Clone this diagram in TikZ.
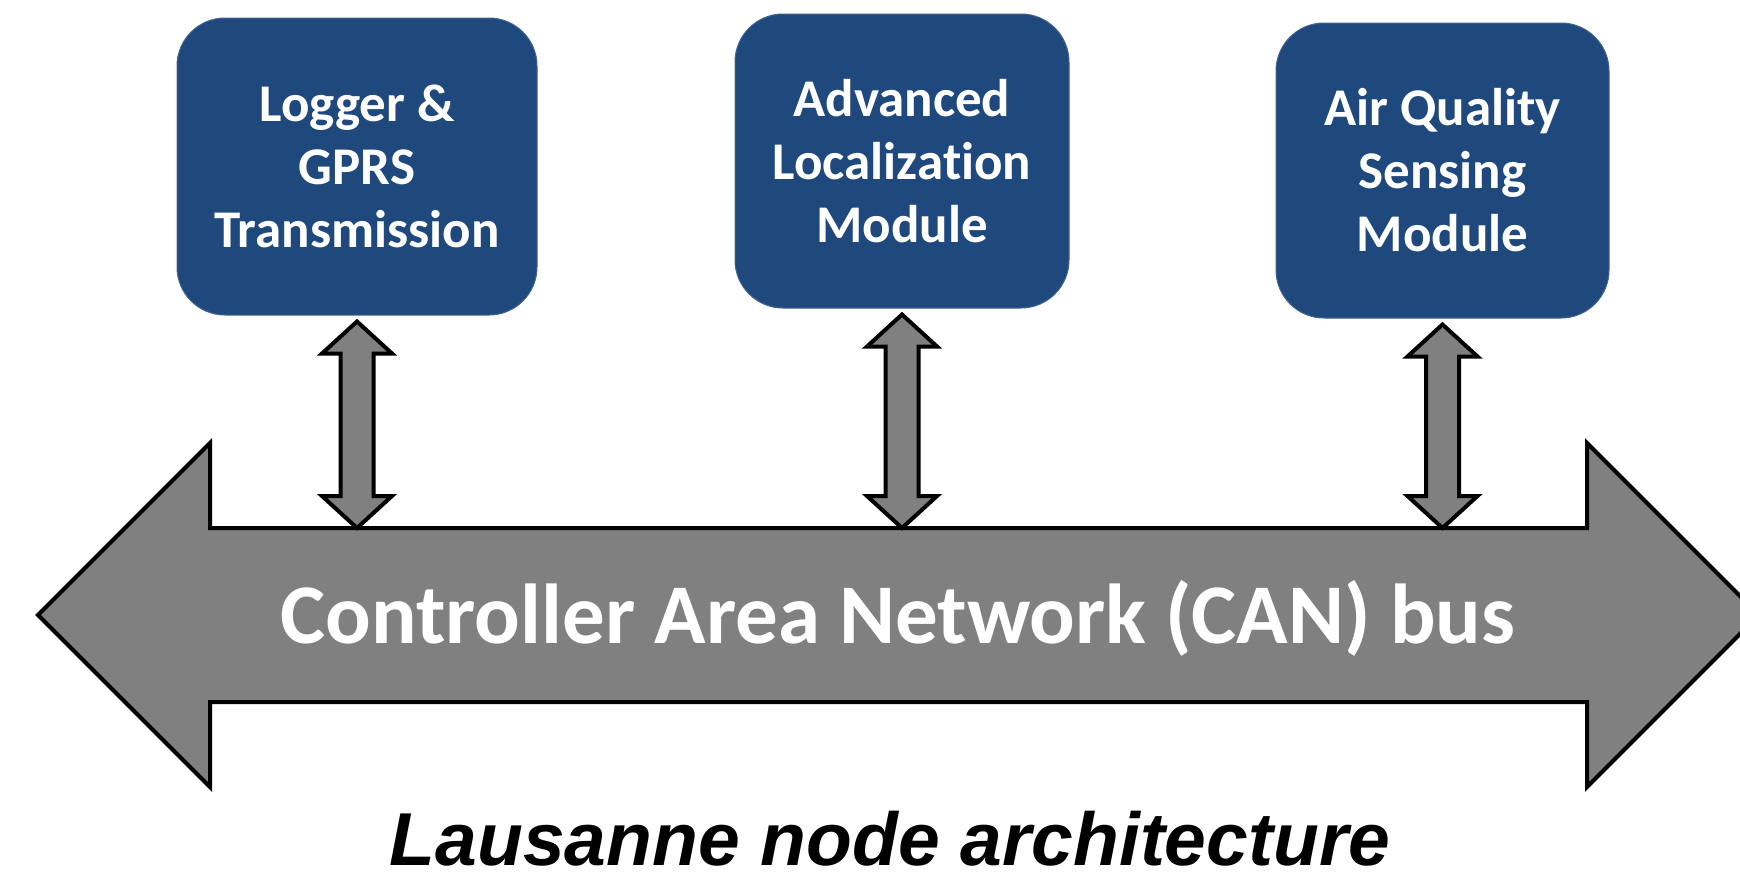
\documentclass[tikz,border=0pt]{standalone}
\usepackage{fontspec}
\setmainfont{Carlito}[Ligatures=NoCommon]
\newfontfamily\capfont{Liberation Sans}
\usetikzlibrary{calc}
\definecolor{modblue}{HTML}{1F497D}
\definecolor{busgray}{HTML}{808080}
\tikzset{
  modbox/.style={rounded corners=48pt, fill=modblue, draw=modblue!85!white, line width=1pt,
    text=white, align=center, inner sep=0pt,
    font=\bfseries\fontsize{53}{63}\selectfont},
  busshape/.style={fill=busgray, draw=black, line width=4pt, line join=miter},
  linkarrow/.style={fill=busgray, draw=black, line width=4pt, line join=miter},
  buslabel/.style={text=white, inner sep=0pt, font=\bfseries\fontsize{85}{100}\selectfont},
  caption/.style={inner sep=0pt, font=\capfont\bfseries\itshape\fontsize{75}{85}\selectfont}
}
% double-headed link from a module box down to the top edge of the bus
\newcommand\modlink[1]{%
  \coordinate (#1-t) at ($(#1.south)+(0,6)$);
  \coordinate (#1-b) at (#1-t |- bustop);
  \draw[linkarrow] (#1-t) -- ($(#1-t)+(35,32)$) -- ($(#1-t)+(16.5,32)$)
    -- ($(#1-b)+(16.5,-32)$) -- ($(#1-b)+(35,-32)$) -- (#1-b)
    -- ($(#1-b)+(-35,-32)$) -- ($(#1-b)+(-16.5,-32)$)
    -- ($(#1-t)+(-16.5,32)$) -- ($(#1-t)+(-35,32)$) -- cycle;
}
\begin{document}
\begin{tikzpicture}[x=1pt, y=-1pt]
\useasboundingbox (0,0) rectangle (1740,873);

% the CAN bus: a wide double arrow
\draw[busshape] (38,615) -- (210,443) -- (210,528) -- (1587,528) -- (1587,443)
  -- (1759,615) -- (1587,787) -- (1587,702) -- (210,702) -- (210,787) -- cycle;
\coordinate (bustop) at (0,528);
\node[buslabel, anchor=base] (bus) at (898,643) {Controller Area Network (CAN) bus};

% modules
\node[modbox, minimum width=360pt, minimum height=297pt] (logger) at (357,166.5)
  {Logger \&\\GPRS\\Transmission};
\node[modbox, minimum width=334pt, minimum height=294pt] (loc) at (902,161)
  {Advanced\\Localization\\Module};
\node[modbox, minimum width=333pt, minimum height=295pt] (air) at (1442.5,170.5)
  {Air Quality\\Sensing\\Module};

\modlink{logger}
\modlink{loc}
\modlink{air}

\node[caption, anchor=base] (cap) at (890,865) {Lausanne node architecture};
\end{tikzpicture}
\end{document}
